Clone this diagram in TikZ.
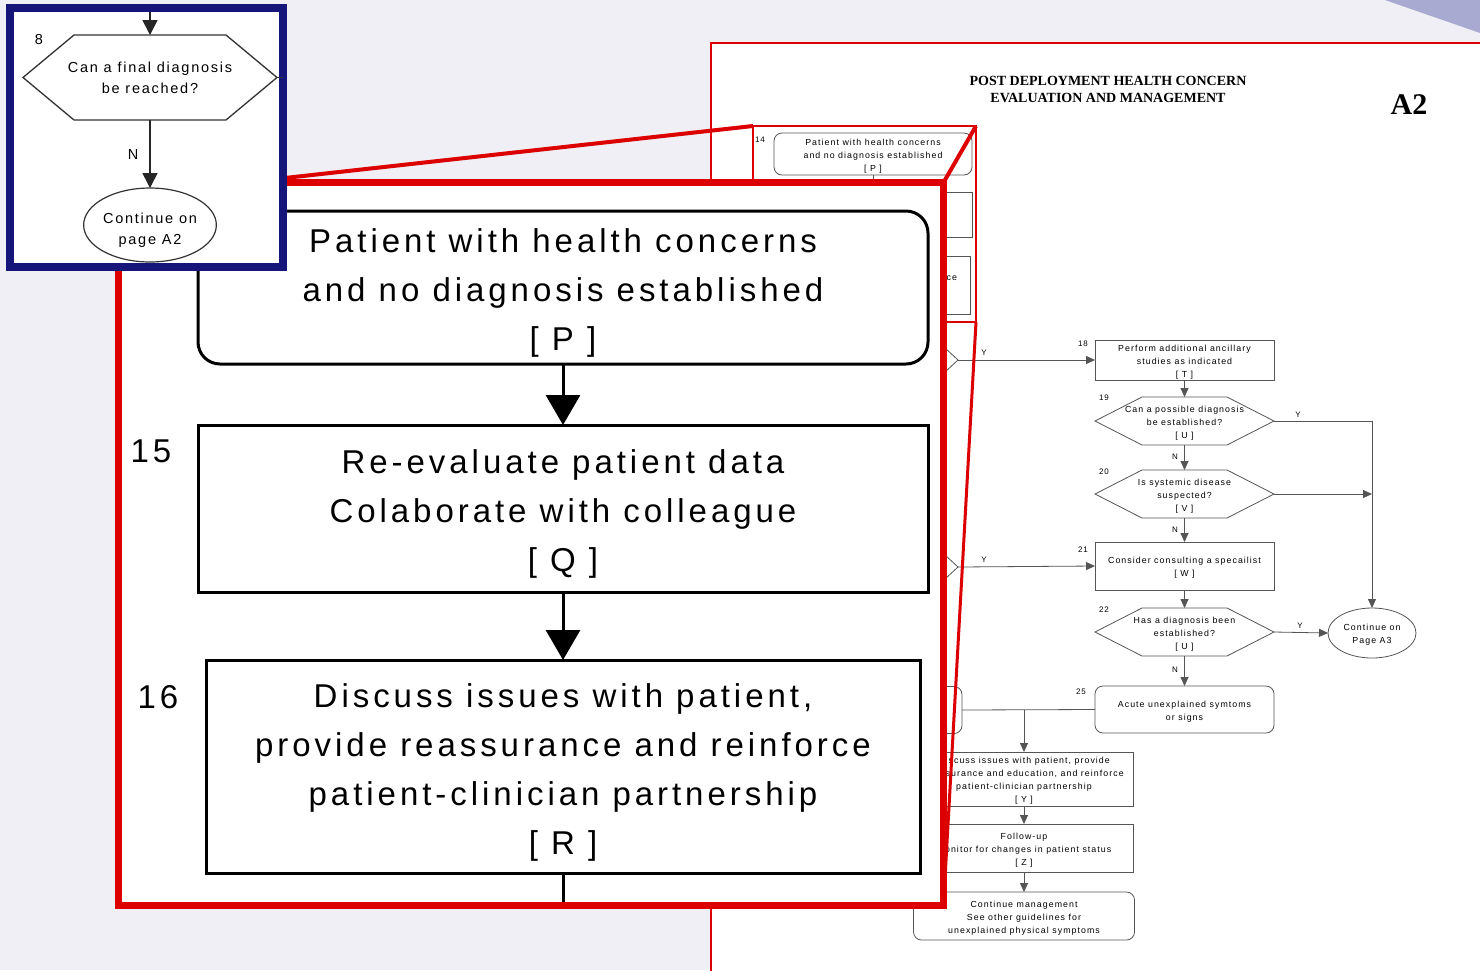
\documentclass[tikz,border=0pt]{standalone}
\usepackage{fontspec}
\setmainfont{Liberation Sans}
\newfontfamily\chartfont[LetterSpace=12]{Liberation Sans}
\newfontfamily\titlefont{Liberation Serif}
\usetikzlibrary{positioning,shapes.geometric,arrows.meta,calc}
\definecolor{haze}{HTML}{EFEFF5}
\definecolor{dusk}{HTML}{A9AAD2}
\definecolor{alarm}{HTML}{DD0000}
\definecolor{navy}{HTML}{16167A}
\definecolor{ink}{HTML}{555555}
\newcommand{\panelfont}{\chartfont\fontsize{33}{49}\selectfont}
\newcommand{\insetfont}{\chartfont\fontsize{14.5}{21}\selectfont}
\newcommand{\minifont}{\chartfont\fontsize{8.8}{13}\selectfont}
\newcommand{\bigstrut}{\rule{0pt}{35pt}}
\newcommand{\ministrut}{\rule{0pt}{10pt}}
\newcommand{\hexoutline}[3][]{%
  \draw[#1] (#2.west) -- ($(#2.north west)+(#3,0)$) -- ($(#2.north east)+(-#3,0)$)
    -- (#2.east) -- ($(#2.south east)+(-#3,0)$) -- ($(#2.south west)+(#3,0)$) -- cycle;}
\tikzset{
  bigbox/.style={draw=black,line width=3pt,fill=white,align=center,inner sep=0pt,outer sep=0pt,font=\panelfont},
  bigflow/.style={-{Triangle[width=34pt,length=30pt]},line width=3pt},
  bignum/.style={font=\panelfont,inner sep=0pt},
  qbox/.style={align=center,inner sep=0pt,outer sep=0pt,font=\insetfont},
  qflow/.style={-{Triangle[width=15pt,length=15pt]},line width=1.6pt,draw=black!85},
  minibox/.style={draw=ink,line width=0.8pt,fill=white,align=center,inner sep=0pt,outer sep=0pt,font=\minifont},
  minihex/.style={align=center,inner sep=0pt,outer sep=0pt,font=\minifont,minimum width=179pt,minimum height=48pt},
  miniflow/.style={-{Triangle[width=8pt,length=9pt]},draw=ink,line width=0.8pt},
  miniline/.style={draw=ink,line width=0.8pt},
  minilbl/.style={font=\chartfont\fontsize{8}{8}\selectfont,inner sep=0pt},
  zoomline/.style={draw=alarm,line width=4pt}
}
\begin{document}
\begin{tikzpicture}[x=1pt,y=-1pt]
  \useasboundingbox (0,0) rectangle (1480,970);
  \clip (0,0) rectangle (1480,970);
  \fill[haze] (0,0) rectangle (1480,970);
  \fill[dusk] (1385,0) -- (1480,0) -- (1480,33) -- cycle;
  \draw[alarm,line width=1.2pt,fill=white] (711,43) rectangle (1490,980);
  \node[font=\titlefont\bfseries\fontsize{14}{17}\selectfont,align=center] (title) at (1108,89.5) {POST DEPLOYMENT HEALTH CONCERN\\EVALUATION AND MANAGEMENT};
  \node[font=\titlefont\bfseries\fontsize{30}{30}\selectfont,inner sep=0pt] (pageno) at (1409,105) {A2};

  \node[minibox,rounded corners=8pt,minimum width=198pt,minimum height=42pt] (sp) at (873,154) {\ministrut Patient with health concerns\\and no diagnosis established\\{[ P ]}};
  \node[minilbl] (n14) at (760,140) {14};
  \node[minibox,minimum width=198pt,minimum height=45pt] (sq) at (873,214.5) {};
  \node[minibox,minimum width=190pt,minimum height=58pt] (sr) at (875,285) {Discuss issues with patient,\\provide reassurance and reinforce\\patient-clinician partnership\\{[ R ]}};
  \draw[miniflow] (sp) -- (sq);
  \node[minihex,minimum width=180pt] (hl1) at (868,360) {};
  \hexoutline[miniline]{hl1}{26}
  \node[minihex,minimum width=180pt] (hl2) at (868,567) {};
  \hexoutline[miniline]{hl2}{26}
  \node[minibox,rounded corners=8pt,minimum width=182pt,minimum height=47pt] (rl) at (871,710) {};

  \node[minibox,minimum width=179pt,minimum height=40pt] (b18) at (1184.5,360) {\ministrut Perform additional ancillary\\studies as indicated\\{[ T ]}};
  \node[minihex,below=17pt of b18] (h19) {\ministrut Can a possible diagnosis\\be established?\\{[ U ]}};
  \hexoutline[miniline]{h19}{47}
  \node[minihex,below=25pt of h19] (h20) {\ministrut Is systemic disease\\suspected?\\{[ V ]}};
  \hexoutline[miniline]{h20}{47}
  \node[minibox,minimum width=179pt,minimum height=48pt,below=24pt of h20] (b21) {\ministrut Consider consulting a specailist\\{[ W ]}};
  \node[minihex,below=18pt of b21] (h22) {\ministrut Has a diagnosis been\\established?\\{[ U ]}};
  \hexoutline[miniline]{h22}{47}
  \node[minibox,rounded corners=8pt,minimum width=179pt,minimum height=47pt,below=30pt of h22] (b25) {\ministrut Acute unexplained symtoms\\or signs};
  \node[minibox,ellipse,minimum width=88pt,minimum height=50pt] (a3) at (1372,633) {\ministrut Continue on\\Page A3};
  \node[minibox,minimum width=218pt,minimum height=54pt] (by) at (1024,779) {\ministrut Discuss issues with patient, provide\\reassurance and education, and reinforce\\patient-clinician partnership\\{[ Y ]}};
  \node[minibox,minimum width=218pt,minimum height=48pt,below=18pt of by] (bz) {\ministrut Follow-up\\Monitor for changes in patient status\\{[ Z ]}};
  \node[minibox,rounded corners=8pt,minimum width=221pt,minimum height=48pt,below=20pt of bz] (be) {\ministrut Continue management\\See other guidelines for\\unexplained physical symptoms};

  \node[minilbl] (n18) at (1083,344) {18};
  \node[minilbl] (n19) at (1104,398) {19};
  \node[minilbl] (n20) at (1104,472) {20};
  \node[minilbl] (n21) at (1083,550) {21};
  \node[minilbl] (n22) at (1104,610) {22};
  \node[minilbl] (n25) at (1081,692) {25};
  \node[minilbl] (yl1) at (984,353) {Y};
  \node[minilbl] (yl2) at (984,560) {Y};
  \node[minilbl] (y19) at (1298,415) {Y};
  \node[minilbl] (y22) at (1300,626) {Y};
  \node[minilbl] (no19) at (1175,457) {N};
  \node[minilbl] (no20) at (1175,530) {N};
  \node[minilbl] (no22) at (1175,670) {N};

  \draw[miniflow] (hl1.east) -- (b18.west);
  \draw[miniflow] (hl2.east) -- (b21.west);
  \draw[miniflow] (b18) -- (h19);
  \draw[miniflow] (h19) -- (h20);
  \draw[miniflow] (h19.east) -| (a3.north);
  \draw[miniflow] (h20.east) -- (h20.east -| a3.north);
  \draw[miniflow] (h20) -- (b21);
  \draw[miniflow] (b21) -- (h22);
  \draw[miniflow] (h22.east) -- (a3.west);
  \draw[miniflow] (h22) -- (b25);
  \draw[miniline] (b25.west) -- (rl.east);
  \draw[miniflow] (by.north |- b25.west) -- (by.north);
  \draw[miniflow] (by) -- (bz);
  \draw[miniflow] (bz) -- (be);

  \node[draw=alarm,line width=1.5pt,minimum width=223pt,minimum height=196pt,inner sep=0pt,outer sep=0pt] (spot) at (864.5,224) {};
  \coordinate (lensin) at (258,181);
  \draw[zoomline] (spot.north west) -- (lensin);
  \draw[zoomline] (spot.north east) -- (943.5,182.5);
  \draw[zoomline,line width=3pt] (spot.south east) -- (943.5,905.5);
  \node[draw=alarm,line width=7pt,fill=white,minimum width=825pt,minimum height=723pt,inner sep=0pt,outer sep=0pt] (lens) at (531,544) {};

  \node[bigbox,rounded corners=22pt,minimum width=730pt,minimum height=153pt] (p) at (563,287.5) {\bigstrut Patient with health concerns\\and no diagnosis established\\{[ P ]}};
  \node[bigbox,minimum width=730pt,minimum height=167pt,below=61pt of p] (q) {\bigstrut Re-evaluate patient data\\Colaborate with colleague\\{[ Q ]}};
  \node[bigbox,minimum width=714pt,minimum height=213pt,below=68pt of q] (r) {\bigstrut Discuss issues with patient,\\provide reassurance and reinforce\\patient-clinician partnership\\{[ R ]}};
  \node[bignum] (n15) at (151,451) {15};
  \node[bignum] (n16) at (158,697) {16};
  \coordinate (rexit) at (563,902);
  \draw[bigflow] (p.south) -- (q.north);
  \draw[bigflow] (q.south) -- (r.north);
  \draw[line width=3pt] (r.south) -- (rexit);

  \node[draw=navy,line width=8pt,fill=white,minimum width=273pt,minimum height=259pt,inner sep=0pt,outer sep=0pt] (inset) at (146.5,137.5) {};
  \node[qbox,minimum width=254pt,minimum height=85pt] (q8) at (150,77.5) {Can a final diagnosis\\be reached?};
  \hexoutline[draw=black!80,line width=1.3pt]{q8}{51}
  \node[qbox] (n8) at (39,40) {8};
  \node[qbox,ellipse,draw=black!80,line width=1.2pt,minimum width=127pt,minimum height=74pt] (a2) at (150,225) {\rule{0pt}{20pt}Continue on\\page A2};
  \node[qbox] (nq) at (133,155) {N};
  \coordinate (qin) at (150,12);
  \draw[qflow] (qin) -- (q8.north);
  \draw[qflow] (q8.south) -- (a2.north);
  \draw[black!80,line width=1.3pt] (q8.east) -- ++(6,0);
\end{tikzpicture}
\end{document}
